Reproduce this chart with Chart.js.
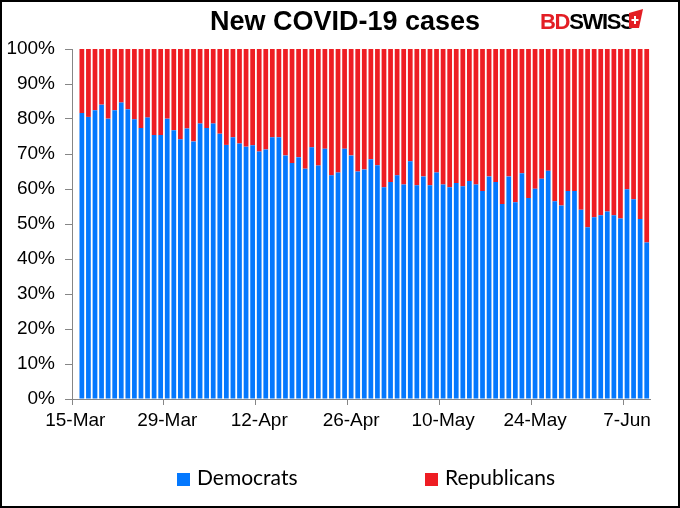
<!DOCTYPE html>
<html>
<head>
<meta charset="utf-8">
<script src="https://cdn.jsdelivr.net/npm/chart.js@4.4.1/dist/chart.umd.min.js"></script>
<style>
  body { margin: 0; background: #fff; }
  #wrap { position: relative; width: 680px; height: 508px; background: #fff; overflow: hidden; }
  #frame { position: absolute; left: 0; top: 0; width: 680px; height: 508px; border: 2px solid #000; box-sizing: border-box; pointer-events: none; }
  #title { position: absolute; left: 345px; top: 6px; transform: translateX(-50%); white-space: nowrap;
           font: bold 27px "Liberation Sans", Arial, sans-serif; color: #000; }
  #logo { position: absolute; left: 540px; top: 9px; white-space: nowrap; letter-spacing: -1.3px;
          font: bold 22px "Liberation Sans", Arial, sans-serif; color: #000; }
  #logo .bd { color: #E31E24; }
  #logo svg { position: absolute; left: 88px; top: 0px; }
  .leg { position: absolute; top: 464px; font: 21px Lato, "Open Sans", sans-serif; color: #000; white-space: nowrap; }
  .leg i { display: inline-block; width: 13px; height: 13px; margin-right: 7px; vertical-align: -1px; }
</style>
</head>
<body>
<div id="wrap">
  <canvas id="chartCovid" width="680" height="508"></canvas>
  <div id="title">New COVID-19 cases</div>
  <div id="logo"><span class="bd">BD</span>SWISS<svg width="16" height="20" viewBox="0 0 16 20"><polygon points="1,4 15,0 11,19 1,19" fill="#E31E24"/><path d="M7 7v8M3.5 11h7" stroke="#fff" stroke-width="2"/></svg></div>
  <div class="leg" style="left:177px"><i style="background:#0478FE"></i>Democrats</div>
  <div class="leg" style="left:425px"><i style="background:#EE1D23"></i>Republicans</div>
  <div id="frame"></div>
</div>
<script>
// Categorías: un día por barra, 15-Mar a 10-Jun
const days = [
  '15-Mar','16-Mar','17-Mar','18-Mar','19-Mar','20-Mar','21-Mar','22-Mar','23-Mar','24-Mar','25-Mar','26-Mar','27-Mar','28-Mar','29-Mar','30-Mar','31-Mar',
  '1-Apr','2-Apr','3-Apr','4-Apr','5-Apr','6-Apr','7-Apr','8-Apr','9-Apr','10-Apr','11-Apr','12-Apr','13-Apr','14-Apr','15-Apr',
  '16-Apr','17-Apr','18-Apr','19-Apr','20-Apr','21-Apr','22-Apr','23-Apr','24-Apr','25-Apr','26-Apr','27-Apr','28-Apr','29-Apr','30-Apr',
  '1-May','2-May','3-May','4-May','5-May','6-May','7-May','8-May','9-May','10-May','11-May','12-May','13-May','14-May','15-May','16-May',
  '17-May','18-May','19-May','20-May','21-May','22-May','23-May','24-May','25-May','26-May','27-May','28-May','29-May','30-May','31-May',
  '1-Jun','2-Jun','3-Jun','4-Jun','5-Jun','6-Jun','7-Jun','8-Jun','9-Jun','10-Jun'
];
const tickLabels = ['15-Mar', '29-Mar', '12-Apr', '26-Apr', '10-May', '24-May', '7-Jun'];

// Porcentaje de casos nuevos por partido (%)
const democrats = [
  null,
  81.7, 80.6, 82.5, 84.1, 80.1, 82.5, 84.7, 82.8, 79.9, 77.4, 80.4, 75.4, 75.4, 80.1,
  76.8, 74.2, 77.3, 73.6, 78.7, 77.4, 78.7, 75.8, 72.6, 74.8, 73.0, 72.1, 72.5, 70.7, 71.3,
  74.8, 74.8, 69.6, 67.4, 69.1, 65.8, 71.9, 66.7, 71.5, 63.9, 64.7, 71.5, 69.6, 65.0, 65.6,
  68.5, 66.8, 60.5, 62.0, 63.9, 61.3, 67.9, 61.1, 63.6, 61.1, 64.7, 61.3, 60.5, 61.7,
  60.8, 62.3, 61.3, 59.4, 63.6, 62.0, 55.7, 63.6, 56.2, 64.5, 57.4, 60.1, 62.9, 65.2, 56.5,
  55.3, 59.4, 59.4, 54.1, 49.1, 51.9, 52.5, 53.6, 52.5, 51.6, 59.9, 57.1, 51.4, 44.7
];
const republicans = [
  null,
  18.3, 19.4, 17.5, 15.9, 19.9, 17.5, 15.3, 17.2, 20.1, 22.6, 19.6, 24.6, 24.6, 19.9,
  23.2, 25.8, 22.7, 26.4, 21.3, 22.6, 21.3, 24.2, 27.4, 25.2, 27.0, 27.9, 27.5, 29.3, 28.7,
  25.2, 25.2, 30.4, 32.6, 30.9, 34.2, 28.1, 33.3, 28.5, 36.1, 35.3, 28.5, 30.4, 35.0, 34.4,
  31.5, 33.2, 39.5, 38.0, 36.1, 38.7, 32.1, 38.9, 36.4, 38.9, 35.3, 38.7, 39.5, 38.3,
  39.2, 37.7, 38.7, 40.6, 36.4, 38.0, 44.3, 36.4, 43.8, 35.5, 42.6, 39.9, 37.1, 34.8, 43.5,
  44.7, 40.6, 40.6, 45.9, 50.9, 48.1, 47.5, 46.4, 47.5, 48.4, 40.1, 42.9, 48.6, 55.3
];

const AXIS = '#868686';
const TICK_FONT = { family: '"Liberation Sans", Arial, sans-serif', size: 19 };

new Chart(document.getElementById('chartCovid'), {
  type: 'bar',
  data: {
    labels: days,
    datasets: [
      { label: 'Democrats', data: democrats, backgroundColor: '#0478FE', borderWidth: 0 },
      { label: 'Republicans', data: republicans, backgroundColor: '#EE1D23', borderWidth: 0 }
    ]
  },
  options: {
    responsive: false, animation: false,
    layout: { padding: { left: 0, right: 30, top: 49, bottom: 77 } },
    datasets: { bar: { categoryPercentage: 1, barPercentage: 0.72 } },
    plugins: { legend: { display: false }, tooltip: { enabled: false } },
    scales: {
      x: {
        stacked: true,
        afterFit: s => { s.height = 32; },
        border: { color: AXIS, width: 1 },
        grid: {
          drawOnChartArea: false, tickLength: 6,
          tickColor: c => tickLabels.includes(days[c.index]) ? AXIS : 'rgba(0,0,0,0)'
        },
        ticks: {
          autoSkip: false, maxRotation: 0, minRotation: 0, padding: 4,
          color: '#000', font: TICK_FONT,
          callback: (v, i) => tickLabels.includes(days[i]) ? days[i] : ''
        }
      },
      y: {
        stacked: true, min: 0, max: 100,
        afterFit: s => { s.width = 72; },
        border: { color: AXIS, width: 1 },
        grid: { drawOnChartArea: false, tickLength: 7, tickColor: AXIS },
        ticks: { stepSize: 10, padding: 10, color: '#000', font: TICK_FONT, callback: v => v + '%' }
      }
    }
  }
});
</script>
</body>
</html>
